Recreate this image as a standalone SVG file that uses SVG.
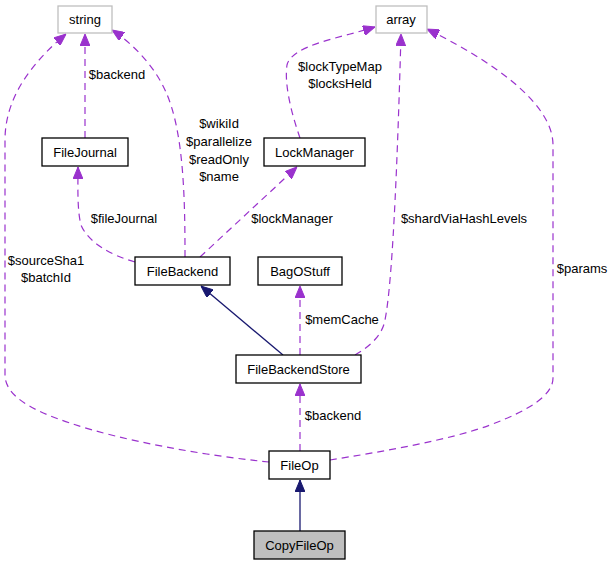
<svg xmlns="http://www.w3.org/2000/svg" width="613" height="565" viewBox="0 0 613 565">
<style>
text{font-family:"Liberation Sans",Arial,sans-serif;font-size:13px;fill:#000}
.n{text-anchor:middle}
.box{fill:#fff;stroke:#000;stroke-width:1.3}
.ext{fill:#fff;stroke:#bfbfbf;stroke-width:1.3}
.dash{fill:none;stroke:#9a32cd;stroke-width:1.2;stroke-dasharray:7,5}
.inh{fill:none;stroke:#191970;stroke-width:1.3}
.lbl{text-anchor:middle}
</style>
<defs>
<marker id="ap" markerUnits="userSpaceOnUse" markerWidth="12" markerHeight="10" refX="12" refY="5" orient="auto"><path d="M0,0 L12,5 L0,10 z" fill="#9a32cd" stroke="#9a32cd"/></marker>
<marker id="an" markerUnits="userSpaceOnUse" markerWidth="12" markerHeight="10" refX="12" refY="5" orient="auto"><path d="M0,0 L12,5 L0,10 z" fill="#191970" stroke="#191970"/></marker>
</defs>
<rect width="613" height="565" fill="#fff"/>
<g id="connectors">
<path class="dash" d="M85,138 L85,34" marker-end="url(#ap)"/>
<path class="dash" d="M185,257 C185,200 184,130 165,90 C155,68 135,45 112,30" marker-end="url(#ap)"/>
<path class="dash" d="M135,262 C110,255 88,242 81,225 C77,210 78,185 78,167" marker-end="url(#ap)"/>
<path class="dash" d="M200,257 L297,167" marker-end="url(#ap)"/>
<path class="dash" d="M300,138 C292,115 284,85 287,65 C292,45 340,38 375,27" marker-end="url(#ap)"/>
<path class="dash" d="M355,355 C370,346 382,336 385,320 C392,285 397,180 401,34" marker-end="url(#ap)"/>
<path class="dash" d="M300,355 L300,286" marker-end="url(#ap)"/>
<path class="inh" d="M283,355 L201,286" marker-end="url(#an)"/>
<path class="dash" d="M300,451 L300,384" marker-end="url(#ap)"/>
<path class="dash" d="M269,462 C200,455 120,440 70,423 C30,410 5,395 5,375 L5,140 C5,95 35,60 66,34" marker-end="url(#ap)"/>
<path class="dash" d="M330,460 C380,452 450,440 490,425 C530,410 553,395 553,378 L553,145 C553,110 510,70 427,29" marker-end="url(#ap)"/>
<path class="inh" d="M300,531 L300,480" marker-end="url(#an)"/>
<text class="lbl" x="117" y="79">$backend</text>
<text class="lbl" x="219" y="128">$wikiId</text>
<text class="lbl" x="219" y="146">$parallelize</text>
<text class="lbl" x="219" y="164">$readOnly</text>
<text class="lbl" x="219" y="181">$name</text>
<text class="lbl" x="124" y="223">$fileJournal</text>
<text class="lbl" x="292" y="223">$lockManager</text>
<text class="lbl" x="340" y="71">$lockTypeMap</text>
<text class="lbl" x="340" y="88">$locksHeld</text>
<text class="lbl" x="464" y="223">$shardViaHashLevels</text>
<text class="lbl" x="582" y="273">$params</text>
<text class="lbl" x="46" y="265">$sourceSha1</text>
<text class="lbl" x="46" y="282">$batchId</text>
<text class="lbl" x="342" y="324">$memCache</text>
<text class="lbl" x="333" y="420">$backend</text>
</g>
<g id="string"><rect class="ext" x="58" y="6" width="54" height="27"/><text class="n" x="85" y="24">string</text></g>
<g id="array"><rect class="ext" x="376" y="6" width="51" height="27"/><text class="n" x="401" y="24">array</text></g>
<g id="FileJournal"><rect class="box" x="42" y="138" width="86" height="28"/><text class="n" x="85" y="156.5">FileJournal</text></g>
<g id="LockManager"><rect class="box" x="264" y="138" width="101" height="28"/><text class="n" x="314.5" y="156.5">LockManager</text></g>
<g id="FileBackend"><rect class="box" x="135" y="257" width="95" height="28"/><text class="n" x="182.5" y="275.5">FileBackend</text></g>
<g id="BagOStuff"><rect class="box" x="258" y="257" width="84" height="28"/><text class="n" x="300" y="275.5">BagOStuff</text></g>
<g id="FileBackendStore"><rect class="box" x="236" y="355" width="125" height="28"/><text class="n" x="298.5" y="373.5">FileBackendStore</text></g>
<g id="FileOp"><rect class="box" x="269" y="451" width="61" height="28"/><text class="n" x="299.5" y="469.5">FileOp</text></g>
<g id="CopyFileOp"><rect x="254" y="531" width="91" height="28" fill="#bfbfbf" stroke="#000" stroke-width="1.3"/><text class="n" x="299.5" y="549.5">CopyFileOp</text></g>
</svg>
